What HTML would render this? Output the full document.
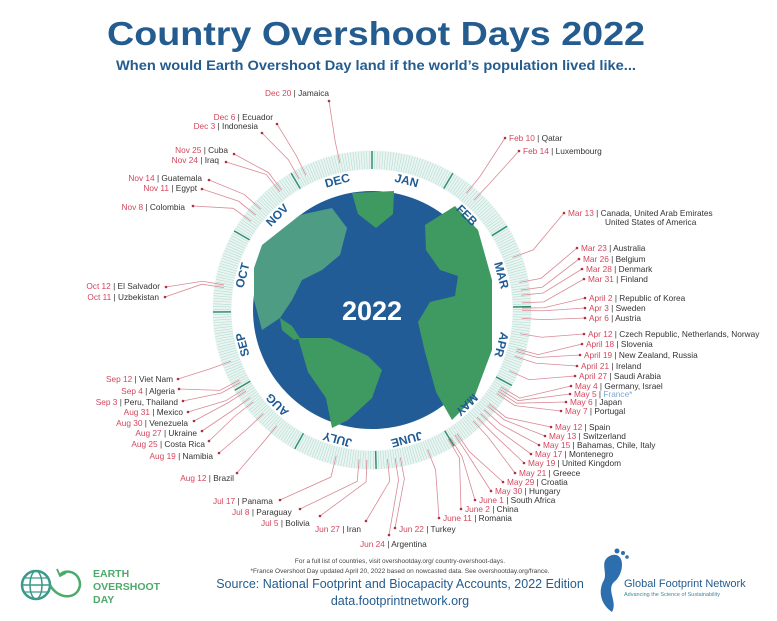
<!DOCTYPE html>
<html><head><meta charset="utf-8"><style>
html,body{margin:0;padding:0;background:#fff}
svg{display:block;font-family:"Liberation Sans",sans-serif}
.r{fill:#d4465c}.k{fill:#333}
.lab{font-size:8.3px}
</style></head><body>
<svg id="s" width="777" height="621" viewBox="0 0 777 621" xmlns="http://www.w3.org/2000/svg">
<text x="376" y="45" text-anchor="middle" font-size="33" font-weight="bold" fill="#245c8f" textLength="538" lengthAdjust="spacingAndGlyphs">Country Overshoot Days 2022</text>
<text x="376" y="70" text-anchor="middle" font-size="14" font-weight="bold" fill="#245c8f" textLength="520" lengthAdjust="spacingAndGlyphs">When would Earth Overshoot Day land if the world’s population lived like...</text>
<g id="ticks"></g>
<g id="lines" stroke="#d98a95" stroke-width="0.8" fill="none"></g>
<g id="dots" fill="#b0303f"></g>
<circle cx="372" cy="310" r="119" fill="#225c96"/>
<g fill="#3f9a62">
<path d="M262,245 L300,215 L332,208 L347,228 L340,255 L322,270 L302,280 L292,300 L280,318 L262,330 L254,300 L254,268Z" fill="#4f9c84"/>
<path d="M352,193 L394,191 L393,214 L376,228 L358,214Z"/>
<path d="M425,225 L455,206 L478,230 L492,280 L492,350 L474,398 L452,420 L436,392 L425,352 L418,322 L430,302 L455,296 L458,276 L440,270 L426,250Z"/>
<path d="M298,338 L330,338 L368,356 L382,370 L372,398 L348,420 L332,428 L326,398 L308,372Z"/>
<path d="M280,318 L292,326 L300,338 L294,340 L282,330Z"/>
</g>
<text x="372" y="320" text-anchor="middle" font-size="27" font-weight="bold" fill="#fff">2022</text>
<g id="months" font-size="12" font-weight="bold" fill="#1f5b94" text-anchor="middle">
<text x="372" y="180" transform="rotate(15 372 310)">JAN</text>
<text x="372" y="180" transform="rotate(45 372 310)">FEB</text>
<text x="372" y="180" transform="rotate(75 372 310)">MAR</text>
<text x="372" y="180" transform="rotate(105 372 310)">APR</text>
<text x="372" y="180" transform="rotate(135 372 310)">MAY</text>
<text x="372" y="180" transform="rotate(165 372 310)">JUNE</text>
<text x="372" y="180" transform="rotate(195 372 310)">JULY</text>
<text x="372" y="180" transform="rotate(225 372 310)">AUG</text>
<text x="372" y="180" transform="rotate(255 372 310)">SEP</text>
<text x="372" y="180" transform="rotate(285 372 310)">OCT</text>
<text x="372" y="180" transform="rotate(315 372 310)">NOV</text>
<text x="372" y="180" transform="rotate(345 372 310)">DEC</text>
</g>
<g class="lab">
<text x="509" y="141"><tspan class="r">Feb 10</tspan><tspan class="k"> | Qatar</tspan></text>
<text x="523" y="154"><tspan class="r">Feb 14</tspan><tspan class="k"> | Luxembourg</tspan></text>
<text x="568" y="216"><tspan class="r">Mar 13</tspan><tspan class="k"> | Canada, United Arab Emirates</tspan></text>
<text x="605" y="225" class="k">United States of America</text>
<text x="581" y="251"><tspan class="r">Mar 23</tspan><tspan class="k"> | Australia</tspan></text>
<text x="583" y="262"><tspan class="r">Mar 26</tspan><tspan class="k"> | Belgium</tspan></text>
<text x="586" y="272"><tspan class="r">Mar 28</tspan><tspan class="k"> | Denmark</tspan></text>
<text x="588" y="282"><tspan class="r">Mar 31</tspan><tspan class="k"> | Finland</tspan></text>
<text x="589" y="301"><tspan class="r">April 2</tspan><tspan class="k"> | Republic of Korea</tspan></text>
<text x="589" y="311"><tspan class="r">Apr 3</tspan><tspan class="k"> | Sweden</tspan></text>
<text x="589" y="321"><tspan class="r">Apr 6</tspan><tspan class="k"> | Austria</tspan></text>
<text x="588" y="337"><tspan class="r">Apr 12</tspan><tspan class="k"> | Czech Republic, Netherlands, Norway</tspan></text>
<text x="586" y="347"><tspan class="r">April 18</tspan><tspan class="k"> | Slovenia</tspan></text>
<text x="584" y="358"><tspan class="r">April 19</tspan><tspan class="k"> | New Zealand, Russia</tspan></text>
<text x="581" y="369"><tspan class="r">April 21</tspan><tspan class="k"> | Ireland</tspan></text>
<text x="579" y="379"><tspan class="r">April 27</tspan><tspan class="k"> | Saudi Arabia</tspan></text>
<text x="575" y="389"><tspan class="r">May 4</tspan><tspan class="k"> | Germany, Israel</tspan></text>
<text x="574" y="397"><tspan class="r">May 5</tspan><tspan class="k"> | </tspan><tspan fill="#7aa8d4">France*</tspan></text>
<text x="570" y="405"><tspan class="r">May 6</tspan><tspan class="k"> | Japan</tspan></text>
<text x="565" y="414"><tspan class="r">May 7</tspan><tspan class="k"> | Portugal</tspan></text>
<text x="555" y="430"><tspan class="r">May 12</tspan><tspan class="k"> | Spain</tspan></text>
<text x="549" y="439"><tspan class="r">May 13</tspan><tspan class="k"> | Switzerland</tspan></text>
<text x="543" y="448"><tspan class="r">May 15</tspan><tspan class="k"> | Bahamas, Chile, Italy</tspan></text>
<text x="535" y="457"><tspan class="r">May 17</tspan><tspan class="k"> | Montenegro</tspan></text>
<text x="528" y="466"><tspan class="r">May 19</tspan><tspan class="k"> | United Kingdom</tspan></text>
<text x="519" y="476"><tspan class="r">May 21</tspan><tspan class="k"> | Greece</tspan></text>
<text x="507" y="485"><tspan class="r">May 29</tspan><tspan class="k"> | Croatia</tspan></text>
<text x="495" y="494"><tspan class="r">May 30</tspan><tspan class="k"> | Hungary</tspan></text>
<text x="479" y="503"><tspan class="r">June 1</tspan><tspan class="k"> | South Africa</tspan></text>
<text x="465" y="512"><tspan class="r">June 2</tspan><tspan class="k"> | China</tspan></text>
<text x="443" y="521"><tspan class="r">June 11</tspan><tspan class="k"> | Romania</tspan></text>
<text x="399" y="532"><tspan class="r">Jun 22</tspan><tspan class="k"> | Turkey</tspan></text>
<text x="360" y="547"><tspan class="r">Jun 24</tspan><tspan class="k"> | Argentina</tspan></text>
<text x="315" y="532"><tspan class="r">Jun 27</tspan><tspan class="k"> | Iran</tspan></text>
<text x="261" y="526"><tspan class="r">Jul 5</tspan><tspan class="k"> | Bolivia</tspan></text>
<text x="232" y="515"><tspan class="r">Jul 8</tspan><tspan class="k"> | Paraguay</tspan></text>
<text x="213" y="504"><tspan class="r">Jul 17</tspan><tspan class="k"> | Panama</tspan></text>
</g>
<g class="lab" text-anchor="end">
<text x="234" y="481"><tspan class="r">Aug 12</tspan><tspan class="k"> | Brazil</tspan></text>
<text x="213" y="459"><tspan class="r">Aug 19</tspan><tspan class="k"> | Namibia</tspan></text>
<text x="205" y="447"><tspan class="r">Aug 25</tspan><tspan class="k"> | Costa Rica</tspan></text>
<text x="197" y="436"><tspan class="r">Aug 27</tspan><tspan class="k"> | Ukraine</tspan></text>
<text x="188" y="426"><tspan class="r">Aug 30</tspan><tspan class="k"> | Venezuela</tspan></text>
<text x="183" y="415"><tspan class="r">Aug 31</tspan><tspan class="k"> | Mexico</tspan></text>
<text x="178" y="405"><tspan class="r">Sep 3</tspan><tspan class="k"> | Peru, Thailand</tspan></text>
<text x="175" y="394"><tspan class="r">Sep 4</tspan><tspan class="k"> | Algeria</tspan></text>
<text x="173" y="382"><tspan class="r">Sep 12</tspan><tspan class="k"> | Viet Nam</tspan></text>
<text x="159" y="300"><tspan class="r">Oct 11</tspan><tspan class="k"> | Uzbekistan</tspan></text>
<text x="160" y="289"><tspan class="r">Oct 12</tspan><tspan class="k"> | El Salvador</tspan></text>
<text x="185" y="210"><tspan class="r">Nov 8</tspan><tspan class="k"> | Colombia</tspan></text>
<text x="197" y="191"><tspan class="r">Nov 11</tspan><tspan class="k"> | Egypt</tspan></text>
<text x="202" y="181"><tspan class="r">Nov 14</tspan><tspan class="k"> | Guatemala</tspan></text>
<text x="219" y="163"><tspan class="r">Nov 24</tspan><tspan class="k"> | Iraq</tspan></text>
<text x="228" y="153"><tspan class="r">Nov 25</tspan><tspan class="k"> | Cuba</tspan></text>
<text x="258" y="129"><tspan class="r">Dec 3</tspan><tspan class="k"> | Indonesia</tspan></text>
<text x="273" y="120"><tspan class="r">Dec 6</tspan><tspan class="k"> | Ecuador</tspan></text>
<text x="329" y="96"><tspan class="r">Dec 20</tspan><tspan class="k"> | Jamaica</tspan></text>
</g>
<g font-size="6.5" fill="#444" text-anchor="middle">
<text x="400" y="563">For a full list of countries, visit overshootday.org/ country-overshoot-days.</text>
<text x="400" y="573">*France Overshoot Day updated April 20, 2022 based on nowcasted data. See overshootday.org/france.</text>
</g>
<text x="400" y="588" text-anchor="middle" font-size="12.5" fill="#245c8f">Source: National Footprint and Biocapacity Accounts, 2022 Edition</text>
<text x="400" y="605" text-anchor="middle" font-size="12.5" fill="#245c8f">data.footprintnetwork.org</text>
<g stroke="#3a9a8a" stroke-width="2.5" fill="none">
<circle cx="36" cy="585" r="14"/>
<ellipse cx="36" cy="585" rx="6" ry="14" stroke-width="1.5"/>
<line x1="22" y1="585" x2="50" y2="585" stroke-width="1.5"/>
<line x1="25" y1="578" x2="47" y2="578" stroke-width="1.2"/>
<line x1="25" y1="592" x2="47" y2="592" stroke-width="1.2"/>
<path d="M50,585 C58,600 78,600 80,585 C80,572 66,568 60,575" stroke="#4caa6a"/>
<path d="M57,569 L60,576 L66,573" stroke="#4caa6a" stroke-width="1.8"/>
</g>
<g font-size="10.5" font-weight="bold" fill="#4caa6a">
<text x="93" y="577">EARTH</text><text x="93" y="590">OVERSHOOT</text><text x="93" y="603">DAY</text>
</g>
<path d="M612,555 C626,552 624,575 614,582 C606,590 618,602 612,612 C600,604 598,590 604,580 C608,572 598,560 612,555Z" fill="#2d6fae"/>
<circle cx="617" cy="551" r="2.5" fill="#2d6fae"/><circle cx="623" cy="553" r="2" fill="#2d6fae"/><circle cx="627" cy="557" r="1.8" fill="#2d6fae"/>
<text x="624" y="587" font-size="11" fill="#245c8f">Global Footprint Network</text>
<text x="624" y="596" font-size="5.5" fill="#3a8a9a">Advancing the Science of Sustainability</text>
</svg>
<script>
(function(){
var NS="http://www.w3.org/2000/svg",cx=372,cy=310;
function el(t,a,p){var e=document.createElementNS(NS,t);for(var k in a)e.setAttribute(k,a[k]);p.appendChild(e);return e;}
var ms=[0,31,59,90,120,151,181,212,243,273,304,334];
var tg=document.getElementById('ticks');
el('circle',{cx:cx,cy:cy,r:150,fill:'none',stroke:'#eaf5f2','stroke-width':19},tg);
for(var d=0;d<365;d++){var a=d/365*2*Math.PI,s=Math.sin(a),c=-Math.cos(a);var m=ms.indexOf(d)>=0;
el('line',{x1:cx+141*s,y1:cy+141*c,x2:cx+159*s,y2:cy+159*c,stroke:m?'#2e8f72':'#b3dcd2','stroke-width':m?1.5:0.6},tg);}
var D=[[40,505,138],[44,519,151],[71,564,213],[81,577,248],[84,579,259],[86,582,269],[89,584,279],[91,585,298],[92,585,308],[95,585,318],[101,584,334],[107,582,344],[108,580,355],[110,577,366],[116,575,376],[123,571,386],[124,570,394],[125,566,402],[126,561,411],[131,551,427],[132,545,436],[134,539,445],[136,531,454],[138,524,463],[140,515,473],[148,503,482],[149,491,491],[151,475,500],[152,461,509],[161,439,518],[172,395,528],[174,389,535],[177,366,521],[185,320,516],[188,300,509],[197,280,500],[223,237,473],[230,219,453],[236,209,441],[238,202,431],[241,194,421],[242,188,412],[245,183,401],[246,179,389],[254,178,379],[283,165,297],[284,166,287],[311,193,206],[314,202,189],[317,209,180],[327,226,162],[328,234,154],[336,262,133],[339,277,124],[353,329,101]];
var lg=document.getElementById('lines'),dg=document.getElementById('dots');
D.forEach(function(p){var a=(p[0]-0.5)/365*2*Math.PI,s=Math.sin(a),c=-Math.cos(a);
var r2=172,x2=cx+r2*s,y2=cy+r2*c;
el('polyline',{points:(cx+150*s)+','+(cy+150*c)+' '+x2+','+y2+' '+p[1]+','+p[2]},lg);
el('circle',{cx:p[1],cy:p[2],r:1.3},dg);});
})();
</script>
</body></html>
